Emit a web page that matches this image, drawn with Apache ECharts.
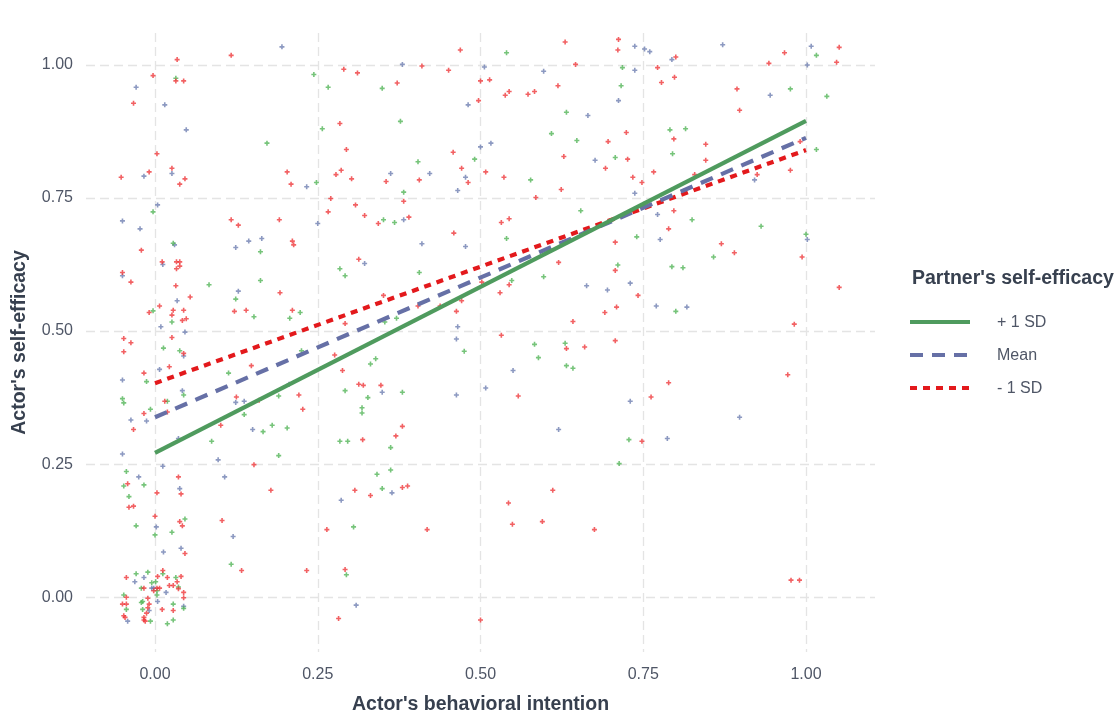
<!DOCTYPE html>
<html><head><meta charset="utf-8">
<script src="https://cdn.jsdelivr.net/npm/echarts@6/dist/echarts.min.js"></script>
<style>html,body{margin:0;padding:0;background:#fff}#c{width:1120px;height:717px}</style>
</head><body><div id="c"></div><script>
const xTicks=[0,0.25,0.5,0.75,1];
const yTicks=[0,0.25,0.5,0.75,1];
const seriesNames=['+ 1 SD','Mean','- 1 SD'];
const legendTitle="Partner's self-efficacy";
const xTitle="Actor's behavioral intention";
const yTitle="Actor's self-efficacy";
const lineX=[0,1];
const plusLine=[0.271,0.895];
const meanLine=[0.338,0.863];
const minusLine=[0.402,0.840];

const plusPts=[[0.032,0.975],[0.172,0.853],[0.244,0.982],[0.266,0.958],[0.257,0.880],[0.248,0.779],[-0.003,0.724],
[0.028,0.665],[-0.003,0.538],[0.026,0.517],[0.013,0.468],[0.038,0.463],[-0.013,0.405],[0.044,0.380],[0.019,0.368],[-0.050,0.373],[-0.048,0.365],[-0.007,0.353],[0.162,0.649],[0.162,0.595],[0.083,0.587],[0.124,0.560],[0.152,0.527],[0.223,0.535],[0.207,0.524],[0.284,0.617],[0.292,0.604],[0.292,0.388],[0.113,0.421],[0.137,0.343],[0.190,0.378],[0.225,0.463],[0.180,0.323],[0.203,0.318],
[0.087,0.293],[0.166,0.311],[0.190,0.266],[-0.044,0.236],[-0.017,0.211],[-0.048,0.209],[-0.040,0.189],[0.046,0.147],[-0.029,0.134],[0.0,0.117],[0.026,0.122],[0.117,0.062],[0.284,0.293],[0.296,0.293],[0.305,0.132],[0.294,0.042],
[-0.029,0.044],[-0.011,0.047],[0.012,0.044],[0.032,0.037],[-0.005,0.027],[0.001,0.029],[-0.021,0.017],[0.003,0.012],[0.003,0.004],[0.036,0.019],[-0.048,0.004],[-0.021,-0.010],[-0.019,-0.008],[0.028,-0.013],[0.044,-0.021],[-0.044,-0.023],[-0.019,-0.023],[-0.007,-0.045],[0.019,-0.050],[0.028,-0.043],
[0.540,1.023],[0.349,0.956],[0.377,0.894],[0.632,0.911],[0.609,0.871],[0.648,0.858],[0.707,0.826],[0.491,0.823],[0.404,0.818],[0.577,0.784],[0.654,0.726],[0.382,0.761],[0.351,0.709],[0.368,0.704],
[0.540,0.674],[0.406,0.610],[0.353,0.517],[0.371,0.524],[0.548,0.595],[0.597,0.602],[0.711,0.624],[0.583,0.475],[0.630,0.477],[0.589,0.450],[0.475,0.462],[0.632,0.435],[0.642,0.430],[0.331,0.438],[0.339,0.448],[0.380,0.385],[0.327,0.375],[0.318,0.356],[0.318,0.346],
[0.362,0.281],[0.341,0.231],[0.362,0.239],[0.349,0.204],[0.713,0.251],
[1.016,1.018],[0.718,0.995],[0.716,0.961],[0.976,0.955],[1.032,0.941],[0.791,0.878],[0.815,0.880],[0.795,0.833],[1.016,0.841],[0.825,0.709],[0.931,0.697],
[0.740,0.677],[0.858,0.639],[1.000,0.682],[0.794,0.621],[0.811,0.619],[0.800,0.537],[0.728,0.296]];

const meanPts=[[0.195,1.034],[-0.029,0.958],[0.015,0.925],[0.048,0.878],[0.026,0.796],[-0.017,0.791],[0.233,0.771],[0.004,0.737],[-0.050,0.707],[-0.023,0.692],[0.250,0.702],
[0.030,0.662],[0.012,0.625],[-0.050,0.604],[0.034,0.557],[0.009,0.508],[0.046,0.498],[0.044,0.453],[0.007,0.428],[-0.050,0.408],[0.042,0.388],[-0.037,0.333],[-0.013,0.331],[0.124,0.657],[0.144,0.669],[0.164,0.674],[0.128,0.575],[0.124,0.366],[0.137,0.368],[0.206,0.400],[0.150,0.315],
[0.036,0.298],[-0.050,0.269],[0.097,0.258],[0.012,0.246],[-0.025,0.226],[0.107,0.226],[0.038,0.204],[0.002,0.132],[0.120,0.114],[0.040,0.092],[0.013,0.085],[0.286,0.182],[0.309,-0.015],
[-0.031,0.029],[-0.017,0.037],[-0.005,0.017],[-0.002,0.017],[0.017,0.009],[0.004,-0.008],[0.044,-0.017],[-0.009,-0.025],[-0.042,-0.045],
[0.380,1.001],[0.506,0.996],[0.597,0.988],[0.712,0.933],[0.481,0.925],[0.665,0.905],[0.676,0.821],[0.500,0.846],[0.516,0.853],[0.477,0.789],[0.362,0.796],[0.422,0.796],[0.465,0.764],[0.382,0.709],
[0.410,0.664],[0.477,0.659],[0.322,0.627],[0.465,0.508],[0.663,0.585],[0.695,0.577],[0.463,0.485],[0.550,0.426],[0.349,0.385],[0.463,0.380],[0.508,0.393],[0.620,0.315],[0.364,0.196],
[0.737,1.035],[0.752,1.030],[0.760,1.025],[0.794,1.010],[0.872,1.038],[1.008,1.035],[1.002,1.000],[0.737,0.990],[0.945,0.943],[0.737,0.759],[0.921,0.784],[0.772,0.719],
[0.776,0.672],[1.002,0.672],[0.730,0.590],[0.770,0.547],[0.817,0.545],[0.730,0.368],[0.898,0.338],[0.787,0.298]];

const minusPts=[[0.117,1.018],[0.034,1.010],[-0.003,0.980],[0.032,0.970],[0.044,0.970],[-0.033,0.928],[0.284,0.890],[0.290,0.992],[0.311,0.985],[0.294,0.841],[0.003,0.833],[0.026,0.806],[-0.009,0.799],[-0.052,0.789],[0.038,0.776],[0.046,0.786],[0.203,0.799],[0.209,0.776],[0.286,0.802],[0.278,0.794],[0.302,0.786],[0.270,0.749],[0.266,0.724],[0.308,0.737],[0.117,0.709],[0.128,0.699],[0.191,0.709],
[-0.021,0.652],[0.011,0.630],[0.033,0.630],[0.038,0.630],[0.038,0.622],[0.033,0.617],[-0.050,0.610],[-0.037,0.592],[0.032,0.585],[0.054,0.564],[0.007,0.547],[-0.009,0.535],[0.028,0.539],[0.044,0.539],[0.026,0.530],[0.042,0.520],[0.048,0.523],[-0.048,0.486],[-0.037,0.478],[-0.048,0.461],[0.026,0.488],[0.044,0.458],[0.022,0.433],[-0.017,0.421],[0.015,0.368],[-0.017,0.345],[0.019,0.348],[-0.033,0.315],[0.211,0.669],[0.213,0.662],[0.192,0.572],[0.122,0.537],[0.140,0.539],[0.211,0.539],[0.313,0.635],[0.292,0.514],[0.276,0.455],[0.288,0.426],[0.313,0.400],[0.148,0.435],[0.125,0.376],[0.221,0.380],[0.227,0.353],[0.160,0.370],[0.101,0.323],
[0.036,0.226],[0.152,0.249],[0.178,0.201],[0.003,0.196],[0.040,0.194],[-0.042,0.213],[-0.040,0.169],[-0.033,0.171],[0.0,0.152],[0.038,0.142],[0.042,0.134],[0.103,0.144],[0.046,0.082],[0.133,0.050],[0.233,0.050],[0.307,0.201],[0.264,0.127],[0.292,0.052],[0.282,-0.040],
[-0.044,0.037],[0.004,0.039],[0.012,0.050],[0.019,0.037],[0.040,0.039],[0.034,0.029],[-0.017,0.017],[0.003,0.017],[0.007,0.017],[-0.002,0.012],[0.022,0.022],[0.028,0.022],[0.036,0.016],[0.044,0.009],[0.044,-0.001],[-0.044,0.0],[-0.050,-0.013],[-0.044,-0.013],[-0.009,-0.013],[-0.011,-0.002],[-0.011,-0.020],[-0.013,-0.030],[0.011,-0.023],[0.028,-0.025],[-0.048,-0.035],[-0.046,-0.038],[-0.017,-0.038],[-0.017,-0.043],[-0.015,-0.045],
[0.469,1.028],[0.630,1.043],[0.712,1.048],[0.711,1.028],[0.410,0.998],[0.451,0.990],[0.646,1.001],[0.372,0.966],[0.500,0.970],[0.514,0.972],[0.538,0.943],[0.544,0.950],[0.573,0.945],[0.583,0.950],[0.619,0.961],[0.497,0.933],[0.696,0.856],[0.692,0.806],[0.628,0.828],[0.458,0.836],[0.471,0.806],[0.481,0.779],[0.508,0.799],[0.536,0.789],[0.624,0.766],[0.585,0.751],[0.355,0.781],[0.406,0.784],[0.382,0.744],[0.322,0.717],[0.343,0.702],[0.390,0.714],[0.532,0.704],[0.544,0.711],
[0.459,0.684],[0.351,0.567],[0.404,0.547],[0.438,0.547],[0.471,0.557],[0.463,0.537],[0.502,0.592],[0.544,0.587],[0.530,0.572],[0.620,0.629],[0.707,0.667],[0.707,0.614],[0.691,0.535],[0.709,0.545],[0.642,0.518],[0.707,0.482],[0.532,0.492],[0.632,0.467],[0.660,0.470],[0.320,0.398],[0.347,0.398],[0.558,0.378],[0.380,0.321],
[0.319,0.296],[0.370,0.303],[0.331,0.191],[0.380,0.206],[0.388,0.209],[0.418,0.127],[0.543,0.177],[0.611,0.201],[0.549,0.137],[0.595,0.142],[0.675,0.127],[0.500,-0.043],
[0.800,1.015],[0.967,1.023],[0.943,1.003],[1.051,1.033],[1.047,1.005],[0.772,0.995],[0.778,0.967],[0.798,0.977],[0.894,0.955],[0.898,0.915],[0.724,0.873],[0.797,0.861],[0.846,0.851],[0.726,0.823],[0.846,0.821],[0.734,0.789],[0.748,0.779],[0.766,0.799],[0.829,0.794],[0.991,0.856],[0.925,0.794],[0.976,0.802],[0.797,0.726],[0.789,0.692],
[0.870,0.664],[0.890,0.647],[0.994,0.639],[0.742,0.567],[1.051,0.582],[0.982,0.513],[0.789,0.403],[0.762,0.376],[0.972,0.418],[0.748,0.293],[0.977,0.032],[0.990,0.032]];

const lineColors=['#4f9b5e','#6670a6','#e3191c'];
const ptColors=['#4fb454','#6b7cb0','#ee3437'];
const dashes=[null,[13,9],[7,6]];
const PLUS='path://M0.34,0H0.66V0.34H1V0.66H0.66V1H0.34V0.66H0V0.34H0.34Z';
const textColor='#4f5666', titleColor='#37404f';
const FONT='"Liberation Sans", Arial, sans-serif';
const SMALL=16, BIG=19.5;

const ptSets=[plusPts,meanPts,minusPts];
const lineSets=[plusLine,meanLine,minusLine];
const series=[];
[1,0,2].forEach(i=>{
  series.push({type:'scatter',name:seriesNames[i]+' pts',data:ptSets[i],symbol:PLUS,symbolSize:5,
    itemStyle:{color:ptColors[i],opacity:0.78},z:2,silent:true});
});
[0,1,2].forEach(i=>{
  series.push({type:'line',name:seriesNames[i],data:lineX.map((x,k)=>[x,lineSets[i][k]]),showSymbol:false,symbol:'none',
    lineStyle:{color:lineColors[i],width:4.2,type:dashes[i]||'solid',cap:'butt'},z:5-i,silent:true});
});

const gridLine={show:true,lineStyle:{color:'#e4e4e4',width:1.3,type:[9,5]}};
const graphic=[{type:'text',left:912,top:269,style:{text:legendTitle,font:'bold '+BIG+'px '+FONT,fill:titleColor}}];
seriesNames.forEach((n,i)=>{
  const y=322+i*33;
  graphic.push({type:'line',shape:{x1:910,y1:y,x2:970,y2:y},style:{stroke:lineColors[i],lineWidth:4,lineDash:dashes[i]||null}});
  graphic.push({type:'text',x:997,y:y+1,style:{text:n,font:SMALL+'px '+FONT,fill:textColor,verticalAlign:'middle'}});
});

const chart=echarts.init(document.getElementById('c'),null,{renderer:'canvas'});
chart.setOption({
  backgroundColor:'#ffffff',
  animation:false,
  grid:{left:86,right:245,top:33,bottom:65,containLabel:false,outerBoundsMode:'none'},
  xAxis:{type:'value',min:-0.106,max:1.106,
    axisLine:{show:false},axisTick:{show:false,customValues:xTicks},
    axisLabel:{customValues:xTicks,formatter:v=>v.toFixed(2),color:textColor,fontSize:SMALL,fontFamily:FONT,margin:15},
    splitLine:gridLine,
    name:xTitle,nameLocation:'middle',nameGap:43,
    nameTextStyle:{fontWeight:'bold',fontSize:BIG,color:titleColor,fontFamily:FONT}},
  yAxis:{type:'value',min:-0.103,max:1.06,
    axisLine:{show:false},axisTick:{show:false,customValues:yTicks},
    axisLabel:{customValues:yTicks,formatter:v=>v.toFixed(2),color:textColor,fontSize:SMALL,fontFamily:FONT,margin:13},
    splitLine:gridLine,
    name:yTitle,nameLocation:'middle',nameGap:56,nameRotate:90,
    nameTextStyle:{fontWeight:'bold',fontSize:BIG,color:titleColor,fontFamily:FONT}},
  series:series,
  graphic:graphic
});
</script></body></html>
